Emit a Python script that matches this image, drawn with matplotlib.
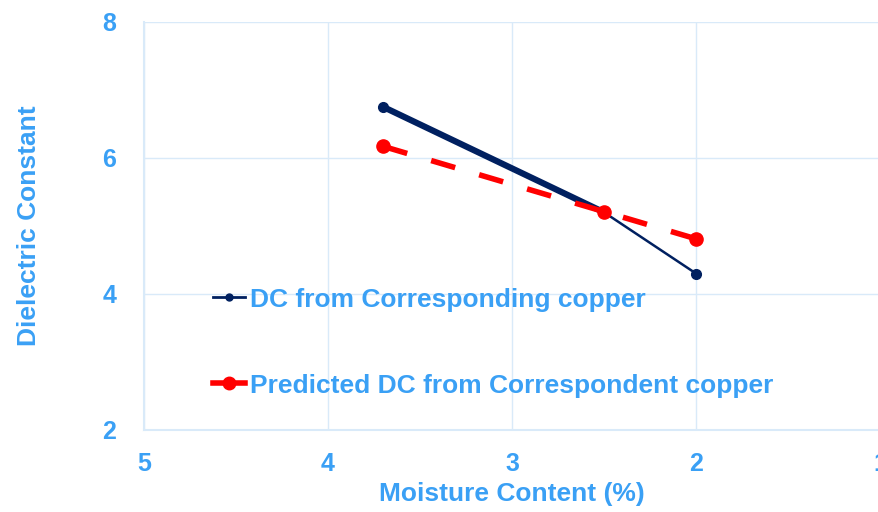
import matplotlib
matplotlib.use("Agg")
import matplotlib.pyplot as plt
from matplotlib.lines import Line2D

# moisture content (%) and dielectric constant readings
moisture = [3.7, 2.5, 2.0]
dc_measured = [6.75, 5.2, 4.3]
dc_predicted = [6.17, 5.21, 4.81]

label_measured = "DC from Corresponding copper"
label_predicted = "Predicted DC from Correspondent copper"

x_ticks = [5, 4, 3, 2, 1]
y_ticks = [2, 4, 6, 8]

navy = "#002060"
red = "#FF0000"
text_blue = "#3AA0F5"
grid_blue = "#D9EAF9"

plt.rcParams["font.family"] = ["Liberation Sans", "DejaVu Sans"]
plt.rcParams["font.weight"] = "bold"

fig = plt.figure(figsize=(8.79, 5.12), dpi=100)
ax = fig.add_axes([0.1638, 0.1602, 0.8375, 0.797])

# measured series: first segment drawn heavy, second light
ax.plot(moisture[:2], dc_measured[:2], color=navy, lw=4.5,
        solid_capstyle="round", zorder=3)
ax.plot(moisture[1:], dc_measured[1:], color=navy, lw=1.8, zorder=3)
ax.plot(moisture, dc_measured, ls="none", marker="o", ms=7, color=navy, zorder=4)

ax.plot(moisture, dc_predicted, color=red, lw=4, dashes=(4.5, 4.5),
        marker="o", ms=9.5, zorder=5)

ax.set_xlim(5, 1)
ax.set_ylim(2, 8)
ax.set_xticks(x_ticks)
ax.set_yticks(y_ticks)
ax.grid(True, color=grid_blue, lw=1)
ax.set_axisbelow(True)
for side in ["top", "right"]:
    ax.spines[side].set_visible(False)
for side in ["left", "bottom"]:
    ax.spines[side].set_color(grid_blue)
    ax.spines[side].set_linewidth(1.5)

ax.tick_params(length=0, labelsize=18, labelcolor=text_blue)
ax.tick_params(axis="x", pad=16)
ax.tick_params(axis="y", pad=20)

ax.set_xlabel("Moisture Content (%)", fontsize=19, fontweight="bold",
              color=text_blue, labelpad=4)
ax.set_ylabel("Dielectric Constant", fontsize=19, fontweight="bold",
              color=text_blue, labelpad=44)

handles = [
    Line2D([], [], color=navy, lw=2, marker="o", ms=5),
    Line2D([], [], color=red, lw=4, marker="o", ms=9),
]
leg = ax.legend(handles, [label_measured, label_predicted],
                loc="upper left", bbox_to_anchor=(0.062, 0.407),
                frameon=False, fontsize=19, handlelength=1.2,
                handletextpad=0.2, labelspacing=2.35)
for t in leg.get_texts():
    t.set_color(text_blue)

fig.savefig("out.png", dpi=100)
